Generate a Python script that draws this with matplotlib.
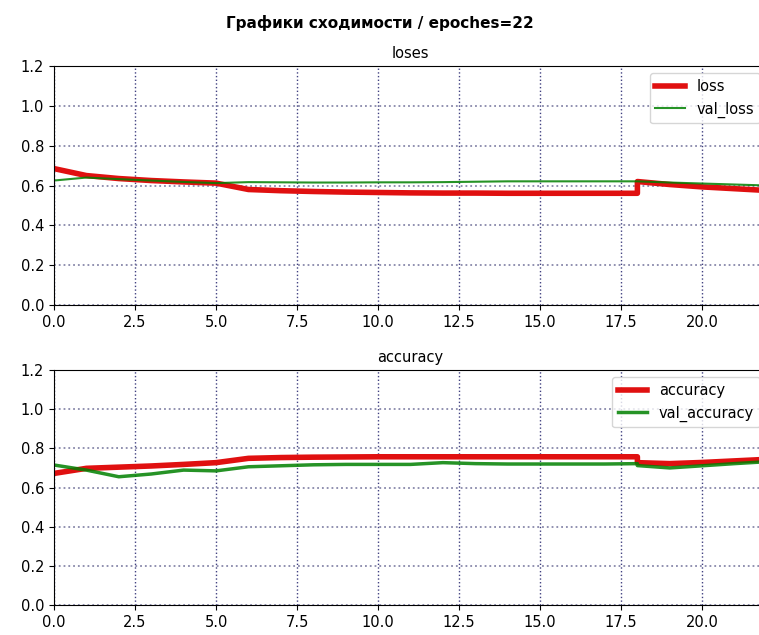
import matplotlib.pyplot as plt
import numpy as np

epochs = [0, 1, 2, 3, 4, 5, 6, 7, 8, 9, 10, 11, 12, 13, 14, 15, 16, 17, 18, 18, 19, 20, 21, 22]

loss = [0.685, 0.650, 0.635, 0.625, 0.618, 0.612, 0.580, 0.574, 0.570, 0.567, 0.565, 0.563,
        0.562, 0.562, 0.561, 0.561, 0.561, 0.561, 0.561, 0.620, 0.605, 0.593, 0.584, 0.575]
val_loss = [0.625, 0.640, 0.632, 0.625, 0.618, 0.612, 0.617, 0.616, 0.615, 0.615, 0.616, 0.616,
            0.617, 0.619, 0.621, 0.621, 0.621, 0.621, 0.621, 0.621, 0.615, 0.610, 0.605, 0.600]

accuracy = [0.672, 0.698, 0.704, 0.710, 0.718, 0.727, 0.749, 0.753, 0.755, 0.756, 0.757, 0.757,
            0.757, 0.757, 0.757, 0.757, 0.757, 0.757, 0.757, 0.727, 0.722, 0.728, 0.736, 0.744]
val_accuracy = [0.715, 0.689, 0.655, 0.669, 0.689, 0.685, 0.706, 0.711, 0.716, 0.718, 0.718, 0.718,
                0.727, 0.722, 0.720, 0.720, 0.720, 0.720, 0.722, 0.712, 0.700, 0.711, 0.722, 0.732]

fig = plt.figure(figsize=(7.59, 6.35), dpi=100)
fig.suptitle("Графики сходимости / epoches=22", fontsize=11, fontweight="bold", y=0.977)

ax1 = fig.add_axes([0.0711, 0.5197, 0.9395, 0.3763])
ax2 = fig.add_axes([0.0711, 0.0472, 0.9395, 0.3701])

panels = [
    (ax1, "loses", loss, val_loss, "loss", "val_loss", 1.5),
    (ax2, "accuracy", accuracy, val_accuracy, "accuracy", "val_accuracy", 2.5),
]
for ax, title, tr, va, l1, l2, lw2 in panels:
    ax.plot(epochs, tr, color="#e01010", lw=4, label=l1)
    ax.plot(epochs, va, color="green", lw=lw2, alpha=0.85, label=l2)
    ax.set_title(title, fontsize=10.5)
    ax.set_xlim(0, 22)
    ax.set_ylim(0, 1.2)
    ax.set_xticks(np.arange(0, 22, 2.5))
    ax.set_yticks(np.arange(0, 1.21, 0.2))
    ax.grid(axis="x", color="#404080", linestyle=":", lw=1.0)
    ax.grid(axis="y", color="#8888aa", linestyle=":", lw=1.3)
    ax.tick_params(labelsize=10.5)
    ax.legend(loc="upper right", fontsize=10.5)

plt.savefig("out.png", dpi=100)
